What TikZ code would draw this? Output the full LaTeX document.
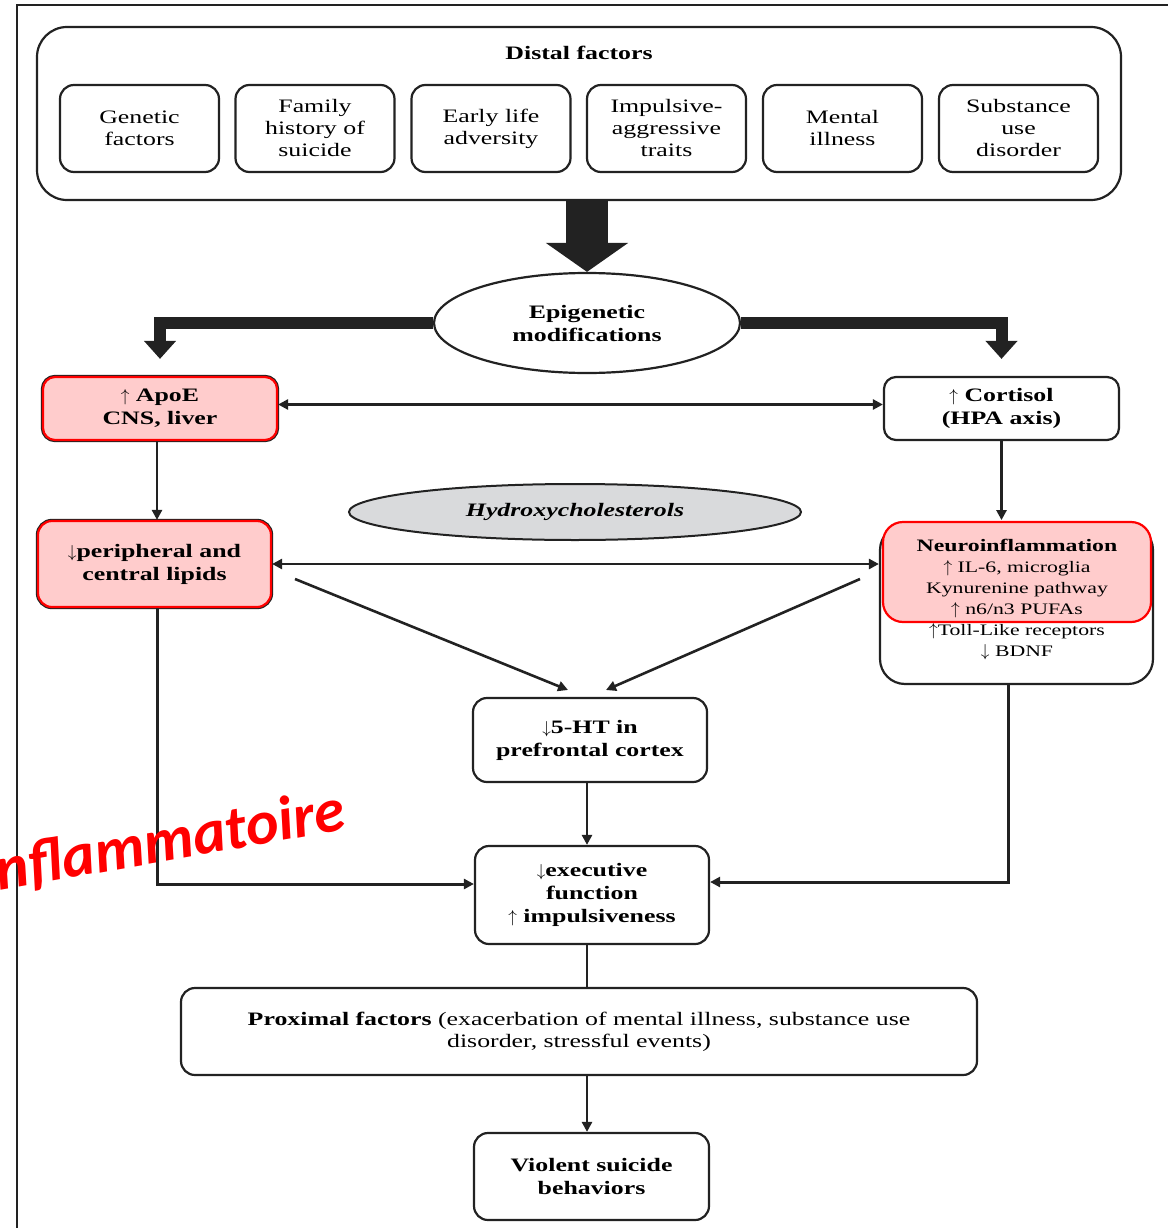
\documentclass[tikz,border=0pt]{standalone}
\usepackage{fontspec}
\setmainfont{Liberation Serif}[FakeStretch=1.36]
\newfontfamily\redfont{Carlito}
\usetikzlibrary{arrows.meta,shapes.geometric,calc}
\definecolor{pinkfill}{HTML}{FFCCCC}
\definecolor{redline}{HTML}{FF0000}
\definecolor{ink}{HTML}{222222}
\definecolor{grayfill}{HTML}{D9DADC}
\newcommand{\up}{$\uparrow$}
\newcommand{\dn}{$\downarrow$}
\begin{document}
\begin{tikzpicture}[x=1pt,y=-1pt,
  box/.style={draw=ink, line width=2.2pt, rounded corners=14pt, fill=white, align=center, inner sep=0pt, font=\fontsize{19}{22}\selectfont},
  bbox/.style={box, font=\fontsize{19}{23}\selectfont\bfseries},
  pinkbox/.style={bbox, fill=pinkfill, draw=redline, preaction={draw=ink, line width=4.4pt}},
  conn/.style={draw=ink, line width=2.6pt, -{Triangle[length=10pt,width=10pt]}},
  plain/.style={draw=ink, line width=2.6pt},
  bigarrow/.style={draw=ink, line width=12pt, -{Triangle[length=18pt,width=31pt]}},
  frame/.style={draw=ink, line width=1.8pt}
]
\useasboundingbox (0,0) rectangle (1168,1228);
% frame
\coordinate (f1) at (17,1228);
\coordinate (f2) at (17,5);
\coordinate (f3) at (1168,5);
\draw[frame] (f1) -- (f2) -- (f3);

% distal factors
\node[box, rounded corners=30pt, minimum width=1084pt, minimum height=173pt] (distal) at (579,113.5) {};
\node[font=\fontsize{19}{22}\selectfont\bfseries] (distaltitle) at (579,53) {Distal factors};
\node[box, minimum width=159pt, minimum height=87pt] (d1) at (139.5,128.5) {Genetic\\factors};
\node[box, minimum width=159pt, minimum height=87pt] (d2) at (315,128.5) {Family\\history of\\suicide};
\node[box, minimum width=159pt, minimum height=87pt] (d3) at (491,128.5) {Early life\\adversity};
\node[box, minimum width=159pt, minimum height=87pt] (d4) at (666.5,128.5) {Impulsive-\\aggressive\\traits};
\node[box, minimum width=159pt, minimum height=87pt] (d5) at (842.5,128.5) {Mental\\illness};
\node[box, minimum width=159pt, minimum height=87pt] (d6) at (1018.5,128.5) {Substance\\use\\disorder};

% epigenetic
\node[bbox, ellipse, minimum width=306pt, minimum height=100pt] (epi) at (587,323) {Epigenetic\\modifications};
\draw[draw=ink, line width=42pt, -{Triangle[length=29pt,width=81pt]}] (distal.south -| epi.north) -- (epi.north);

% second row
\node[pinkbox, rounded corners=12pt, minimum width=234pt, minimum height=63pt] (apoe) at (160,408.5) {\up\ ApoE\\CNS, liver};
\node[bbox, rounded corners=12pt, minimum width=235pt, minimum height=63pt] (cort) at (1001.5,408.5) {\up\ Cortisol\\(HPA axis)};
\draw[bigarrow, shorten >=17pt] (epi.west) -| (apoe.north);
\draw[bigarrow, shorten >=17pt] (epi.east) -| (cort.north);
\draw[conn, {Triangle[length=10pt,width=10pt]}-{Triangle[length=10pt,width=10pt]}] ($(apoe.east)+(0,-4)$) -- ($(cort.west)+(0,-4)$);

% third row
\node[pinkbox, minimum width=233pt, minimum height=86pt] (lip) at (154.5,564) {\dn peripheral and\\central lipids};
\node[draw=ink, line width=2pt, fill=grayfill, ellipse, minimum width=452pt, minimum height=56pt, inner sep=0pt, font=\fontsize{19}{22}\selectfont\bfseries\itshape] (hyd) at (575,512) {Hydroxycholesterols};
\node[box, rounded corners=25pt, minimum width=273pt, minimum height=159pt] (neuro) at (1016.5,604.5) {};
\node[draw=redline, line width=2.2pt, fill=pinkfill, rounded corners=20pt, minimum width=268pt, minimum height=100pt, inner sep=0pt] (neurored) at (1017,572) {};
\node[align=center, inner sep=0pt, font=\fontsize{16}{21}\selectfont] (neurotext) at (1017,600) {{\fontsize{17.5}{21}\selectfont\bfseries Neuroinflammation}\\\up\ IL-6, microglia\\Kynurenine pathway\\\up\ n6/n3 PUFAs\\\up Toll-Like receptors\\\dn\ BDNF};

\draw[conn] ($(apoe.south)+(-3,0)$) -- ($(lip.north)+(2.5,0)$);
\draw[conn] (cort.south) -- ($(cort.south)+(0,79)$) coordinate (cortend);
\draw[conn, {Triangle[length=10pt,width=10pt]}-{Triangle[length=10pt,width=10pt]}] (lip.east) -- (lip.east -| neuro.west);

% 5-HT
\node[bbox, minimum width=234pt, minimum height=84pt] (hts) at (590,740) {\dn 5-HT in\\prefrontal cortex};
\coordinate (dl1) at (295,579);
\coordinate (dl2) at (568,690);
\coordinate (dr1) at (860,579);
\coordinate (dr2) at (606,690);
\draw[conn] (dl1) -- (dl2);
\draw[conn] (dr1) -- (dr2);

% executive
\node[bbox, minimum width=234pt, minimum height=98pt] (exec) at (592,895) {\dn executive\\function\\\up\ impulsiveness};
\draw[conn] ($(hts.south)+(-3,0)$) -- ($(exec.north)+(-5,0)$);
\draw[conn, line width=3pt] ($(lip.south)+(2.5,0)$) |- ($(exec.west)+(0,-11)$);
\draw[conn, line width=3pt] ($(neuro.south)+(-8.5,0)$) |- ($(exec.east)+(0,-13)$);

% proximal
\node[box, minimum width=796pt, minimum height=87pt] (prox) at (579,1031.5) {\textbf{Proximal factors} (exacerbation of mental illness, substance use\\disorder, stressful events)};
\draw[plain] ($(exec.south)+(-5,0)$) -- ($(exec.south |- prox.north)+(-5,0)$);

% violent
\node[bbox, minimum width=235pt, minimum height=87pt] (viol) at (591.5,1176.5) {Violent suicide\\behaviors};
\draw[conn] ($(prox.south)+(8,0)$) -- ($(viol.north)+(-4.5,0)$);

% overlay text
\node[rotate=10, anchor=base east, text=redline, inner sep=0pt, font=\redfont\bfseries\itshape\fontsize{62}{70}\selectfont] (infl) at (348,829) {nflammatoire};
\end{tikzpicture}
\end{document}
